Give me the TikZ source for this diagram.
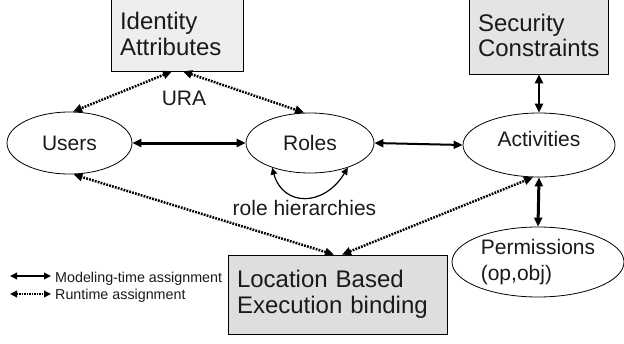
\documentclass[tikz,border=0pt]{standalone}
\usepackage{fontspec}
\setmainfont{Liberation Sans}
\usetikzlibrary{shapes.geometric,arrows.meta}
\definecolor{txt}{HTML}{1A1A1A}
\definecolor{fillA}{HTML}{EEEEEE}
\definecolor{fillB}{HTML}{E4E4E4}
\definecolor{fillC}{HTML}{DEDEDE}
\begin{document}
\begin{tikzpicture}[x=1pt,y=-1pt,
  ell/.style={draw, ellipse, line width=0.8pt, inner sep=0pt, text=txt, font=\fontsize{21}{26}\selectfont},
  bigbox/.style={draw, rectangle, line width=0.8pt, inner xsep=9pt, inner ysep=0pt, align=left, text=txt, font=\fontsize{24}{25.5}\selectfont},
  lbl/.style={inner sep=0pt, text=txt, font=\fontsize{21}{25}\selectfont},
  legtxt/.style={inner sep=0pt, text=txt, font=\fontsize{14.3}{17}\selectfont, anchor=base west},
  tipA/.tip={Triangle[length=9pt,width=8pt]},
  tipB/.tip={Triangle[length=7pt,width=6.5pt]},
  mt/.style={line width=#1, tipA-tipA},
  mt/.default=2.5pt,
  rt/.style={line width=2.5pt, dash pattern=on 1.8pt off 1.2pt, tipA-tipA},
  loopline/.style={line width=1.2pt, tipB-tipB},
  legmt/.style={line width=2pt, tipB-tipB},
  legrt/.style={line width=2pt, dash pattern=on 1.5pt off 1pt, tipB-tipB}
]
\useasboundingbox (0,0) rectangle (624,343);

% boxes
\node[bigbox, fill=fillA, text width=114pt, minimum height=74pt] (ia) at (177,34) {Identity\\Attributes};
\node[bigbox, fill=fillB, text width=121pt, minimum height=77pt] (sc) at (538.5,35.5) {Security\\Constraints};
\node[bigbox, fill=fillC, text width=201pt, minimum height=79pt] (lb) at (337.5,294.5) {Location Based\\Execution binding};

% ellipses
\node[ell, minimum width=125pt, minimum height=62pt] (users) at (69.5,143) {Users};
\node[ell, minimum width=128pt, minimum height=60pt] (roles) at (310,143) {Roles};
\node[ell, minimum width=152pt, minimum height=64pt, text depth=12pt] (act) at (539,145) {Activities};
\node[ell, minimum width=172pt, minimum height=70pt, align=left] (perm) at (538,262) {Permissions\\(op,obj)};

% labels
\node[lbl] (ura) at (184,98.5) {URA};
\node[lbl, anchor=base] (rh) at (304.5,215) {role hierarchies};

% modeling-time connectors
\draw[mt=3pt] (users.east) -- (roles.west);
\draw[mt=2pt] (roles.east) -- (act.west);
\draw[mt=2.5pt] (sc.south -| act.north) -- (act.north);
\draw[mt=3pt] (act.south) -- (perm.north);
\draw[loopline] (roles.213) .. controls (283,207) and (324,207) .. (roles.327);

% runtime connectors
\draw[rt] ([xshift=-5pt]ia.south) -- ([xshift=3.5pt]users.north);
\draw[rt] ([xshift=6pt]ia.south) -- ([xshift=-6pt]roles.north);
\draw[rt] ([xshift=-3.5pt]lb.north) -- ([xshift=4pt]users.south);
\draw[rt] ([xshift=4.5pt]lb.north) -- ([xshift=-6pt]act.south);

% legend
\coordinate (l1a) at (10,276);
\coordinate (l1b) at (51,276);
\coordinate (l2a) at (10,294);
\coordinate (l2b) at (51,294);
\draw[legmt] (l1a) -- (l1b);
\draw[legrt] (l2a) -- (l2b);
\node[legtxt] (leg1) at (55,282) {Modeling-time assignment};
\node[legtxt] (leg2) at (55,299.5) {Runtime assignment};
\end{tikzpicture}
\end{document}
